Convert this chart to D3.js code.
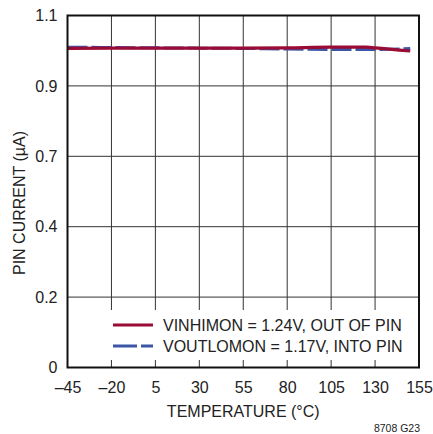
<!DOCTYPE html>
<html><head><meta charset="utf-8">
<script src="https://cdn.jsdelivr.net/npm/d3@7/dist/d3.min.js"></script>
<style>
html,body{margin:0;padding:0;background:#fff;}
svg text{font-family:"Liberation Sans",Arial,sans-serif;fill:#222;}
</style></head>
<body>
<svg id="c" width="433" height="434"></svg>
<script>
const temps = [-45, -20, 5, 30, 55, 80, 105, 125, 130, 150];
const vinhimon = [0.9975, 0.998, 0.998, 0.998, 0.998, 0.999, 1.001, 1.001, 0.999, 0.989];
const voutlomon = [1.001, 1.000, 0.999, 0.998, 0.997, 0.995, 0.994, 0.994, 0.994, 0.997];
const xTicks = [-45, -20, 5, 30, 55, 80, 105, 130, 155];
const yTicks = [0, 0.22, 0.44, 0.66, 0.88, 1.1];
const yTickLabels = ["0", "0.2", "0.4", "0.7", "0.9", "1.1"];
const legendLabels = ["VINHIMON = 1.24V, OUT OF PIN", "VOUTLOMON = 1.17V, INTO PIN"];
const colors = ["#9a0b36", "#3b56a6"];

const svg = d3.select("#c");
const L = 67.5, R = 419, T = 15.5, B = 367.5;
const x = d3.scaleLinear().domain([-45, 155]).range([L, R]);
const y = d3.scaleLinear().domain([0, 1.1]).range([B, T]);

// grid
const g = svg.append("g");
g.selectAll(".vx").data(xTicks.slice(1, -1)).enter().append("line")
  .attr("x1", d => x(d)).attr("x2", d => x(d)).attr("y1", T).attr("y2", B)
  .attr("stroke", "#333").attr("stroke-width", 1);
g.selectAll(".hy").data(yTicks.slice(1, -1)).enter().append("line")
  .attr("x1", L).attr("x2", R).attr("y1", d => y(d)).attr("y2", d => y(d))
  .attr("stroke", "#333").attr("stroke-width", 1);

// lines
const line = d3.line().x((d, i) => x(temps[i])).y(d => y(d)).curve(d3.curveMonotoneX);
svg.append("path").datum(voutlomon).attr("d", line).attr("fill", "none")
  .attr("stroke", colors[1]).attr("stroke-width", 3).attr("stroke-dasharray", "20,4");
svg.append("path").datum(vinhimon).attr("d", line).attr("fill", "none")
  .attr("stroke", colors[0]).attr("stroke-width", 3.2);

// legend
svg.append("rect").attr("x", 100).attr("y", 310).attr("width", R - 100).attr("height", 50).attr("fill", "#fff");
const leg = svg.append("g");
legendLabels.forEach((t, i) => {
  const yy = 325 + i * 21;
  leg.append("line").attr("x1", 113).attr("x2", 153).attr("y1", yy).attr("y2", yy)
    .attr("stroke", colors[i]).attr("stroke-width", 3)
    .attr("stroke-dasharray", i === 1 ? "24,4" : null);
  leg.append("text").attr("x", 163).attr("y", yy + 5.5).attr("font-size", 16).text(t);
});

// frame
svg.append("rect").attr("x", L).attr("y", T).attr("width", R - L).attr("height", B - T)
  .attr("fill", "none").attr("stroke", "#111").attr("stroke-width", 2);

// axes via d3
const xAxis = d3.axisBottom(x).tickValues(xTicks).tickSize(0).tickPadding(14)
  .tickFormat(d => d < 0 ? "\u2013" + Math.abs(d) : d);
svg.append("g").attr("transform", `translate(0,${B})`).call(xAxis)
  .call(a => a.select(".domain").remove())
  .selectAll("text").attr("font-size", 16).attr("fill", "#222").attr("font-family", "Liberation Sans, Arial, sans-serif");
const yAxis = d3.axisLeft(y).tickValues(yTicks).tickSize(0).tickPadding(10)
  .tickFormat((d, i) => yTickLabels[i]);
svg.append("g").attr("transform", `translate(${L},0)`).call(yAxis)
  .call(a => a.select(".domain").remove())
  .selectAll("text").attr("font-size", 16).attr("fill", "#222").attr("font-family", "Liberation Sans, Arial, sans-serif");

svg.append("text").attr("x", (L + R) / 2).attr("y", 417).attr("text-anchor", "middle")
  .attr("font-size", 16).text("TEMPERATURE (°C)");
svg.append("text").attr("transform", "translate(25,203) rotate(-90)").attr("text-anchor", "middle")
  .attr("font-size", 16).text("PIN CURRENT (µA)");
svg.append("text").attr("x", 420).attr("y", 432).attr("text-anchor", "end")
  .attr("font-size", 10.5).text("8708 G23");
</script>
</body></html>
